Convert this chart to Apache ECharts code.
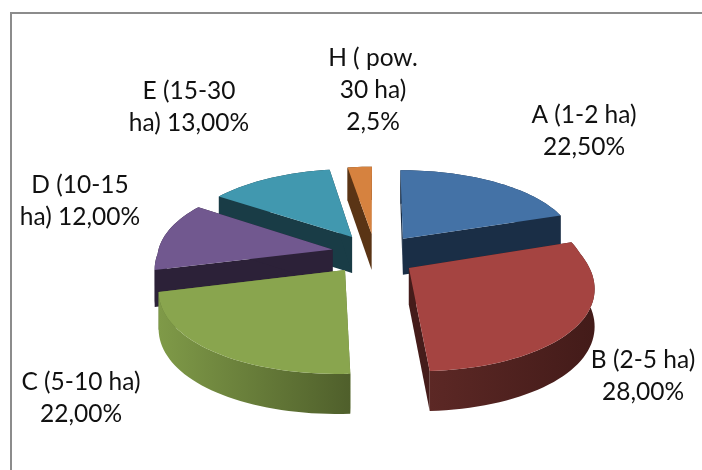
<!DOCTYPE html>
<html>
<head>
<meta charset="utf-8">
<style>html,body{margin:0;padding:0;background:#fff}#main{width:702px;height:470px}</style>
<script src="https://cdn.jsdelivr.net/npm/echarts@6/dist/echarts.min.js"></script>
</head>
<body>
<div id="main"></div>
<script>
var names = ['A (1-2 ha)', 'B (2-5 ha)', 'C (5-10 ha)', 'D (10-15 ha)', 'E (15-30 ha)', 'H ( pow. 30 ha)'];
var shares = [22.5, 28, 22, 12, 13, 2.5];
var labelLines = [
    ['A (1-2 ha)', '22,50%'],
    ['B (2-5 ha)', '28,00%'],
    ['C (5-10 ha)', '22,00%'],
    ['D (10-15', 'ha) 12,00%'],
    ['E (15-30', 'ha) 13,00%'],
    ['H ( pow.', '30 ha)', '2,5%']
];
var labelPos = [[584, 99], [643, 344], [81, 366], [80, 169], [189, 75], [373, 42]];
var topColors = ['#4472a6', '#a54441', '#89a54e', '#71588f', '#4198af', '#d6823f'];
var wallLeft = ['#1a2e46', '#5c2825', '#7f9a48', '#2c2138', '#193c46', '#5a3415'];
var wallRight = ['#1a2e46', '#431b19', '#4f5f2b', '#2c2138', '#193c46', '#5a3415'];
var cutColors = ['#1a2e46', '#451c1a', '#5f7434', '#2c2138', '#193c46', '#5a3415'];

// pie geometry (perspective disc)
var cx = 375, cy = 254, rx = 175, ry = 83, perspBack = 0.1, perspFront = 0.19, perspY = 0.15, depth = 36.5, explode = 0.25;
// the 3D view squeezes angles a bit: data angle -> drawn angle
var warpFrom = [0, 81, 182, 261, 304, 360];
var warpTo = [0, 72, 177, 256, 304, 360];

function warp(deg) {
    for (var k = 1; k < warpFrom.length; k++) {
        if (deg <= warpFrom[k]) {
            var t = (deg - warpFrom[k - 1]) / (warpFrom[k] - warpFrom[k - 1]);
            return warpTo[k - 1] + t * (warpTo[k] - warpTo[k - 1]);
        }
    }
    return deg;
}

function project(x, y, z) {
    var w = 1 + (y > 0 ? perspBack : perspFront) * y;
    return [
        cx + rx * x / w,
        cy - ry * y / (1 + perspY * y) + depth * z / (1 + 0.5 * perspY * y)
    ];
}

var total = shares.reduce(function (a, b) { return a + b; }, 0);

function renderSlice(params, api) {
    var i = params.dataIndex;
    var before = 0;
    for (var k = 0; k < i; k++) before += shares[k];
    var d0 = before / total * 360;
    var d1 = (before + api.value(1)) / total * 360;
    var mid = (d0 + d1) / 2 * Math.PI / 180;
    var ox = explode * Math.sin(mid), oy = explode * Math.cos(mid);

    var topPts = [], botPts = [];
    var steps = Math.max(4, Math.round((d1 - d0) / 2));
    for (var s = 0; s <= steps; s++) {
        var a = warp(d0 + (d1 - d0) * s / steps) * Math.PI / 180;
        topPts.push(project(ox + Math.sin(a), oy + Math.cos(a), 0));
        botPts.push(project(ox + Math.sin(a), oy + Math.cos(a), 1));
    }
    var apexTop = project(ox, oy, 0), apexBot = project(ox, oy, 1);
    var rim = topPts.concat(botPts.slice().reverse());
    var minX = Math.min.apply(null, rim.map(function (p) { return p[0]; }));
    var maxX = Math.max.apply(null, rim.map(function (p) { return p[0]; }));
    var rimFill = new echarts.graphic.LinearGradient(minX, 0, maxX, 0, [
        { offset: 0, color: wallLeft[i] },
        { offset: 1, color: wallRight[i] }
    ], true);
    var z2 = Math.round(100 - Math.cos(mid) * 50);

    return {
        type: 'group',
        children: [
            { type: 'polygon', z2: z2, shape: { points: [apexTop, apexBot, botPts[0], topPts[0]] }, style: { fill: cutColors[i] } },
            { type: 'polygon', z2: z2, shape: { points: [apexTop, apexBot, botPts[steps], topPts[steps]] }, style: { fill: cutColors[i] } },
            { type: 'polygon', z2: z2 + 1, shape: { points: rim }, style: { fill: rimFill } },
            { type: 'polygon', z2: z2 + 2, shape: { points: [apexTop].concat(topPts) }, style: { fill: topColors[i] } }
        ]
    };
}

var labelEls = labelLines.map(function (lines, i) {
    return {
        type: 'text',
        x: labelPos[i][0],
        y: labelPos[i][1],
        style: {
            text: lines.join('\n'),
            font: '24.5px Lato',
            lineHeight: 32,
            textAlign: 'center',
            fill: '#111'
        }
    };
});

var myChart = echarts.init(document.getElementById('main'));
myChart.setOption({
    animation: false,
    backgroundColor: '#fff',
    graphic: [
        { type: 'polyline', shape: { points: [[11, 470], [11, 13], [702, 13]] }, style: { stroke: '#8c8c8c', lineWidth: 2, fill: null } }
    ].concat(labelEls),
    series: [{
        type: 'custom',
        coordinateSystem: 'none',
        renderItem: renderSlice,
        data: names.map(function (n, i) { return { name: n, value: [i, shares[i]] }; })
    }]
});
</script>
</body>
</html>
